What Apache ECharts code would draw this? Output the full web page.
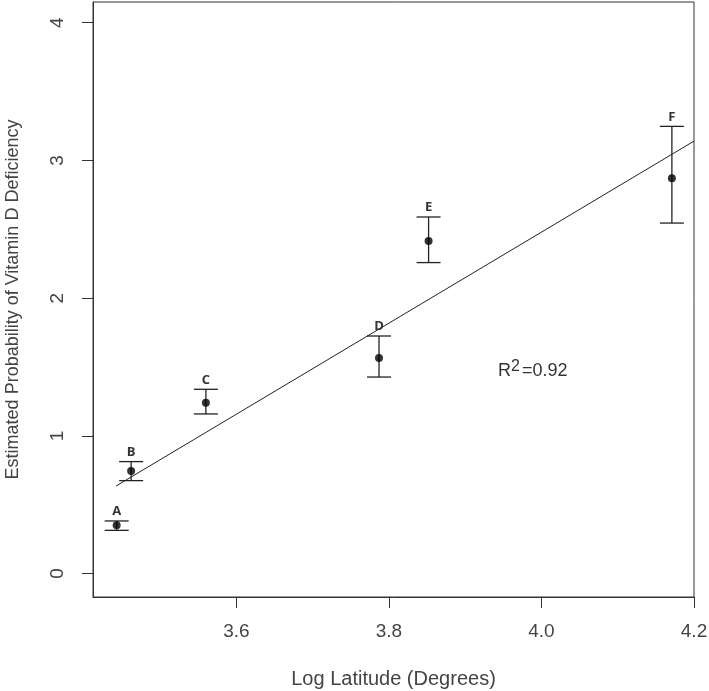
<!DOCTYPE html>
<html>
<head>
<meta charset="utf-8">
<script src="https://cdn.jsdelivr.net/npm/echarts@6/dist/echarts.min.js"></script>
<style>
  html, body { margin: 0; padding: 0; background: #fff; }
  #chart { width: 709px; height: 691px; }
</style>
</head>
<body>
<div id="chart"></div>
<script>
// 数据：各组的对数纬度、估计值及误差范围
var groups = ['A', 'B', 'C', 'D', 'E', 'F'];
var logLat = [3.443, 3.462, 3.560, 3.787, 3.852, 4.171];
var estimate = [0.351, 0.745, 1.241, 1.565, 2.415, 2.870];
var lower = [0.314, 0.675, 1.159, 1.427, 2.258, 2.545];
var upper = [0.382, 0.813, 1.338, 1.725, 2.589, 3.247];
// 回归线两端
var fitLine = [[3.4423, 0.636], [4.2, 3.140]];
var xTicks = [3.6, 3.8, 4.0, 4.2];
var yTicks = [0, 1, 2, 3, 4];
var r2Text = { x: 3.943, y: 1.43, base: 'R', sup: '2', rest: '=0.92' };

var pointData = logLat.map(function (x, i) { return [x, estimate[i]]; });
var barData = logLat.map(function (x, i) { return [x, lower[i], upper[i], i]; });

var myChart = echarts.init(document.getElementById('chart'));
var textColor = '#444';

var option = {
  animation: false,
  backgroundColor: '#fff',
  grid: {
    left: 93, top: 2, right: 15, bottom: 94,
    outerBoundsMode: 'none',
    containLabel: false,
    show: true,
    borderColor: '#333',
    borderWidth: 1
  },
  xAxis: {
    type: 'value',
    min: 3.412,
    max: 4.2,
    name: 'Log Latitude (Degrees)',
    nameLocation: 'middle',
    nameGap: 72,
    nameTextStyle: { fontFamily: 'Liberation Sans', fontSize: 20, color: textColor },
    axisLine: { show: true, onZero: false, lineStyle: { color: '#333', width: 1 } },
    axisTick: { show: true, length: 11, customValues: xTicks, lineStyle: { color: '#333' } },
    axisLabel: {
      customValues: xTicks,
      margin: 25,
      fontFamily: 'Liberation Sans',
      fontSize: 19,
      color: textColor,
      formatter: function (v) { return v.toFixed(1); }
    },
    splitLine: { show: false }
  },
  yAxis: {
    type: 'value',
    min: -0.17,
    max: 4.15,
    name: 'Estimated Probability of Vitamin D Deficiency',
    nameLocation: 'middle',
    nameGap: 71,
    nameTextStyle: { fontFamily: 'Liberation Sans', fontSize: 18, color: textColor },
    axisLine: { show: true, onZero: false, lineStyle: { color: '#333', width: 1 } },
    axisTick: { show: true, length: 11, customValues: yTicks, lineStyle: { color: '#333' } },
    axisLabel: {
      customValues: yTicks,
      rotate: 90,
      margin: 26,
      fontFamily: 'Liberation Sans',
      fontSize: 19,
      color: textColor
    },
    splitLine: { show: false }
  },
  series: [
    {
      // 回归线
      type: 'line',
      data: fitLine,
      symbol: 'none',
      lineStyle: { color: '#222', width: 1 },
      z: 2
    },
    {
      // 误差棒与组标签
      type: 'custom',
      data: barData,
      renderItem: function (params, api) {
        var x = api.value(0);
        var lo = api.coord([x, api.value(1)]);
        var hi = api.coord([x, api.value(2)]);
        var idx = api.value(3);
        var cap = 12;
        var style = { stroke: '#222', lineWidth: 1.3 };
        return {
          type: 'group',
          children: [
            { type: 'line', shape: { x1: lo[0], y1: lo[1], x2: hi[0], y2: hi[1] }, style: style },
            { type: 'line', shape: { x1: lo[0] - cap, y1: lo[1], x2: lo[0] + cap, y2: lo[1] }, style: style },
            { type: 'line', shape: { x1: hi[0] - cap, y1: hi[1], x2: hi[0] + cap, y2: hi[1] }, style: style },
            {
              type: 'text',
              style: {
                x: hi[0], y: hi[1] - 3,
                text: groups[idx],
                align: 'center',
                verticalAlign: 'bottom',
                font: 'bold 13px "Open Sans"',
                fill: '#333'
              }
            }
          ]
        };
      },
      z: 3
    },
    {
      type: 'scatter',
      data: pointData,
      symbol: 'circle',
      symbolSize: 8,
      itemStyle: { color: '#000' },
      z: 4
    },
    {
      // R² 标注
      type: 'custom',
      data: [[r2Text.x, r2Text.y]],
      renderItem: function (params, api) {
        var p = api.coord([api.value(0), api.value(1)]);
        var font = '18px "Liberation Sans"';
        return {
          type: 'group',
          children: [
            { type: 'text', style: { x: p[0], y: p[1] + 3, text: r2Text.base, font: font, fill: '#333', verticalAlign: 'bottom' } },
            { type: 'text', style: { x: p[0] + 13, y: p[1] - 2, text: r2Text.sup, font: '16px "Liberation Sans"', fill: '#333', verticalAlign: 'bottom' } },
            { type: 'text', style: { x: p[0] + 24, y: p[1] + 3, text: r2Text.rest, font: font, fill: '#333', verticalAlign: 'bottom' } }
          ]
        };
      },
      z: 5
    }
  ]
};
myChart.setOption(option);
</script>
</body>
</html>
